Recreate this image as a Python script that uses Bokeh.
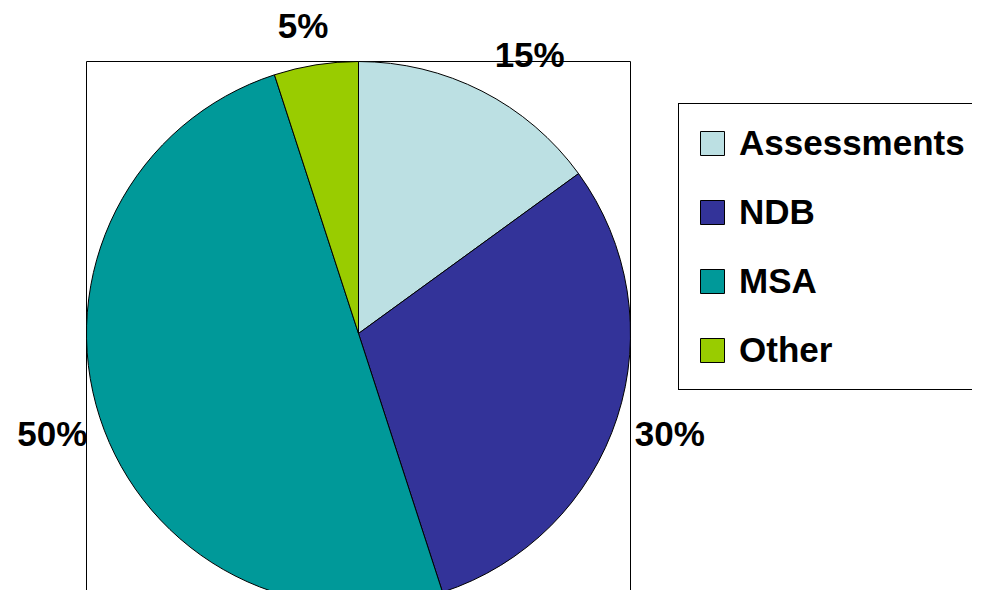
import numpy as np
from bokeh.plotting import figure
from bokeh.models import Range1d, BoxAnnotation, Legend, LegendItem, ColumnDataSource
from bokeh.core.properties import value
from bokeh.embed import file_html
from bokeh.resources import INLINE

# ---- data ----
categories = ["Assessments", "NDB", "MSA", "Other"]
shares = [15, 30, 50, 5]
colors = ["#bce0e3", "#333399", "#009999", "#99cc00"]
pct_labels = ["15%", "30%", "50%", "5%"]

# ---- geometry (pixel coords, y measured upward from bottom of a 606px window) ----
PAGE_H = 606
cx, cy, R = 358, PAGE_H - 333, 272
LABEL_R = 322
# small pixel nudges (dx, dy-down) from the mid-angle anchor, like Excel's best-fit labels
nudges = [(25, 8), (5, 0), (0, 0), (-5, 10)]

frac = np.array(shares, dtype=float) / sum(shares)
cum = np.concatenate([[0], np.cumsum(frac)])
start = np.pi / 2 - 2 * np.pi * cum[:-1]
end = np.pi / 2 - 2 * np.pi * cum[1:]
mid = (start + end) / 2

lx = cx + LABEL_R * np.cos(mid) + np.array([n[0] for n in nudges])
ly = cy + LABEL_R * np.sin(mid) - np.array([n[1] for n in nudges])

src = ColumnDataSource(dict(cat=categories, share=shares, color=colors,
                            start=start, end=end,
                            x=[cx] * 4, y=[cy] * 4))
lab = ColumnDataSource(dict(x=lx, y=ly, text=pct_labels))

W, H = 972, 590
p = figure(width=W, height=H, x_range=Range1d(0, W), y_range=Range1d(PAGE_H - H, PAGE_H),
           output_backend="svg", toolbar_location=None, min_border=0,
           x_axis_type=None, y_axis_type=None)
p.grid.visible = False
p.outline_line_color = None
p.background_fill_color = "white"
p.border_fill_color = "white"

# plot-area frame
frame = BoxAnnotation(left=86, right=630, top=PAGE_H - 61, bottom=-20,
                      fill_alpha=0, line_color="black", line_alpha=1, line_width=1, level="underlay")
p.add_layout(frame)

r = p.wedge(x="x", y="y", radius=R, start_angle="start", end_angle="end", direction="clock",
            fill_color="color", line_color="black", line_width=1, source=src)

p.text(x="x", y="y", text="text", source=lab, text_align="center", text_baseline="middle",
       text_font=value("Liberation Sans"), text_font_style="bold", text_font_size="35px",
       text_color="black")

legend = Legend(items=[LegendItem(label=c, renderers=[r], index=i) for i, c in enumerate(categories)],
                location=(678, 200), orientation="vertical")
legend.label_text_font = "Liberation Sans"
legend.label_text_font_style = "bold"
legend.label_text_font_size = "35px"
legend.label_text_color = "black"
legend.glyph_width = 30
legend.glyph_height = 30
legend.label_height = 42
legend.spacing = 27
legend.padding = 18
legend.margin = 0
legend.label_standoff = 12
legend.border_line_color = "black"
legend.border_line_alpha = 1
legend.border_line_width = 1
legend.background_fill_color = "white"
legend.background_fill_alpha = 1
p.add_layout(legend)

open("out.html", "w").write(file_html(p, INLINE))
